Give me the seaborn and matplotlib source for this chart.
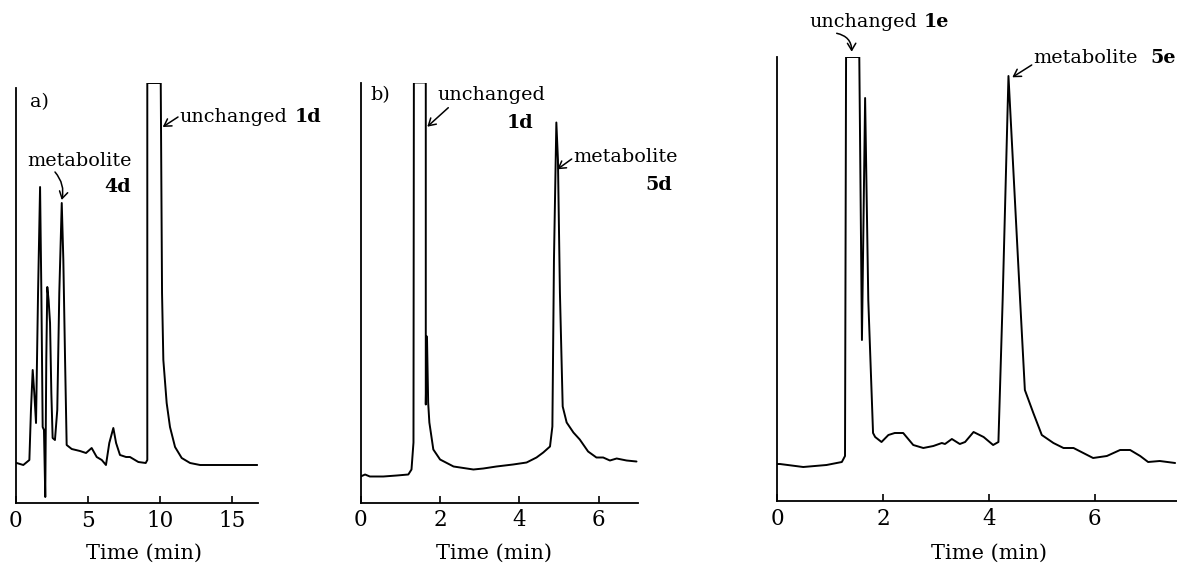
import numpy as np
import pandas as pd
import matplotlib
matplotlib.use("Agg")
import matplotlib.pyplot as plt
import seaborn as sns

# ---------------- data ----------------
# panel a : time (min) and detector response (arbitrary units)
a_time = [0.0, 0.08, 0.54, 0.96, 1.07, 1.19, 1.30, 1.42, 1.56, 1.70, 1.79, 1.88,
          1.97, 2.06, 2.13, 2.20, 2.29, 2.39, 2.48, 2.57, 2.73, 2.89, 3.03, 3.20,
          3.31, 3.43, 3.54, 3.89, 4.46, 4.88, 5.27, 5.62, 5.97, 6.26, 6.49, 6.77,
          6.96, 7.23, 7.65, 7.92, 8.50, 9.01, 9.12, 9.12, 10.05, 10.14, 10.23,
          10.46, 10.69, 11.04, 11.50, 12.08, 12.77, 15.07, 16.73]
a_resp = [40, 40, 38, 43, 93, 133, 110, 80, 210, 316, 210, 76,
          73, 6, 143, 216, 203, 180, 110, 65, 63, 93, 210, 300,
          243, 143, 58, 54, 52, 50, 55, 46, 43, 38, 60, 75,
          60, 48, 46, 46, 41, 40, 43, 420, 420, 210, 143,
          100, 76, 56, 45, 40, 38, 38, 38]

# panel b
b_time = [0.0, 0.11, 0.23, 0.57, 0.91, 1.20, 1.28, 1.33, 1.34, 1.64, 1.64, 1.67,
          1.70, 1.73, 1.83, 2.00, 2.34, 2.84, 3.09, 3.42, 3.84, 4.18, 4.43, 4.60,
          4.77, 4.83, 4.87, 4.93, 4.97, 5.02, 5.09, 5.19, 5.36, 5.52, 5.73, 5.94,
          6.11, 6.28, 6.45, 6.70, 6.95]
b_resp = [26, 28, 26, 26, 27, 28, 33, 60, 420, 420, 98, 166,
          100, 80, 53, 43, 36, 33, 34, 36, 38, 40, 45, 50,
          56, 76, 243, 380, 343, 210, 96, 80, 70, 63, 51, 45,
          45, 42, 44, 42, 41]

# panel c
c_time = [0.0, 0.05, 0.49, 0.93, 1.22, 1.28, 1.30, 1.55, 1.60, 1.66, 1.72, 1.81,
          1.85, 1.97, 2.10, 2.22, 2.38, 2.57, 2.76, 2.95, 3.11, 3.17, 3.30, 3.45,
          3.55, 3.71, 3.90, 4.08, 4.18, 4.26, 4.37, 4.59, 4.68, 4.84, 5.00, 5.22,
          5.41, 5.60, 5.97, 6.23, 6.48, 6.67, 6.86, 7.01, 7.23, 7.52]
c_resp = [37, 37, 34, 36, 39, 45, 444, 444, 161, 403, 201, 68,
          64, 59, 66, 68, 68, 56, 53, 55, 58, 57, 62, 57,
          59, 69, 64, 56, 59, 201, 425, 201, 111, 88, 66, 58,
          53, 53, 43, 45, 51, 51, 45, 39, 40, 38]

a_ticks = [0, 5, 10, 15]
b_ticks = [0, 2, 4, 6]
c_ticks = [0, 2, 4, 6]
x_label = "Time (min)"

# ---------------- style ----------------
sns.set_style("ticks")
plt.rcParams["font.family"] = ["DejaVu Serif"]
plt.rcParams["axes.linewidth"] = 1.3
plt.rcParams["text.color"] = "black"
plt.rcParams["axes.labelcolor"] = "black"
plt.rcParams["xtick.color"] = "black"
plt.rcParams["axes.edgecolor"] = "black"

W, H = 1177, 564
fig = plt.figure(figsize=(W / 100, H / 100), dpi=100)


def make_axes(left, right, bottom, top):
    return fig.add_axes([left / W, (H - bottom) / H, (right - left) / W, (bottom - top) / H])


panels = [
    dict(box=(15.5, 258, 503, 83), xlim=16.78, ylim=420, spine=415,
         t=a_time, r=a_resp, ticks=a_ticks, lab=(144 - 15.5) / 242.5),
    dict(box=(360.7, 637.7, 502.5, 82.7), xlim=6.98, ylim=419.8, spine=419.8,
         t=b_time, r=b_resp, ticks=b_ticks, lab=(494 - 360.7) / 277),
    dict(box=(777.3, 1177, 501, 56.7), xlim=7.556, ylim=444.3, spine=444.3,
         t=c_time, r=c_resp, ticks=c_ticks, lab=(989 - 777.3) / 399.7),
]

for p in panels:
    l, r, b, t = p["box"]
    ax = make_axes(l, r, b, t)
    df = pd.DataFrame({"time": p["t"], "resp": p["r"]})
    sns.lineplot(data=df, x="time", y="resp", ax=ax, sort=False, estimator=None,
                 color="black", lw=1.4)
    ax.set_xlim(0, p["xlim"])
    ax.set_ylim(0, p["ylim"])
    ax.set_xticks(p["ticks"])
    ax.set_xticklabels([str(v) for v in p["ticks"]])
    ax.set_yticks([])
    ax.set_ylabel("")
    ax.tick_params(axis="x", direction="in", length=5, width=1.2, pad=5,
                   labelsize=15.5, colors="black")
    for s in ["top", "right"]:
        ax.spines[s].set_visible(False)
    ax.spines["left"].set_bounds(0, p["spine"])
    ax.set_xlabel(x_label, fontsize=15, color="black")
    lab_y = -(553 - b) / (b - t)
    ax.xaxis.set_label_coords(p["lab"], lab_y)
    ax.xaxis.label.set_va("center")
    ax.patch.set_alpha(0)


def txt(x, y, s, bold=False, ha="left"):
    fig.text(x / W, (H - y) / H, s, fontsize=13.8, ha=ha, va="center",
             color="black", fontweight="bold" if bold else "normal")


def arrow(x1, y1, x2, y2, rad=0.0):
    fig.add_artist(matplotlib.patches.FancyArrowPatch(
        (x1, H - y1), (x2, H - y2), transform=None,
        arrowstyle="->,head_length=5,head_width=3", lw=1.1, color="black",
        connectionstyle=f"arc3,rad={rad}", shrinkA=0, shrinkB=0))


# panel a labels
txt(30, 102, "a)")
txt(27, 161, "metabolite")
txt(104, 187, "4d", bold=True)
arrow(55, 172, 61.7, 200, rad=-0.25)
txt(179, 117, "unchanged")
txt(295, 117, "1d", bold=True)
arrow(178, 117, 162.7, 127)

# panel b labels
txt(370, 95, "b)")
txt(437, 95, "unchanged")
txt(507, 123, "1d", bold=True)
arrow(448.3, 107.7, 427.3, 126.7)
txt(573, 157, "metabolite")
txt(645, 185, "5d", bold=True)
arrow(571.7, 159, 557.3, 169.3)

# panel c labels
txt(809, 22, "unchanged")
txt(924, 22, "1e", bold=True)
arrow(836.7, 33.3, 851.7, 51.7, rad=-0.4)
txt(1033, 58, "metabolite")
txt(1150, 58, "5e", bold=True)
arrow(1031.7, 65, 1012.3, 77.3)

fig.savefig("out.png", dpi=100, facecolor="white")
